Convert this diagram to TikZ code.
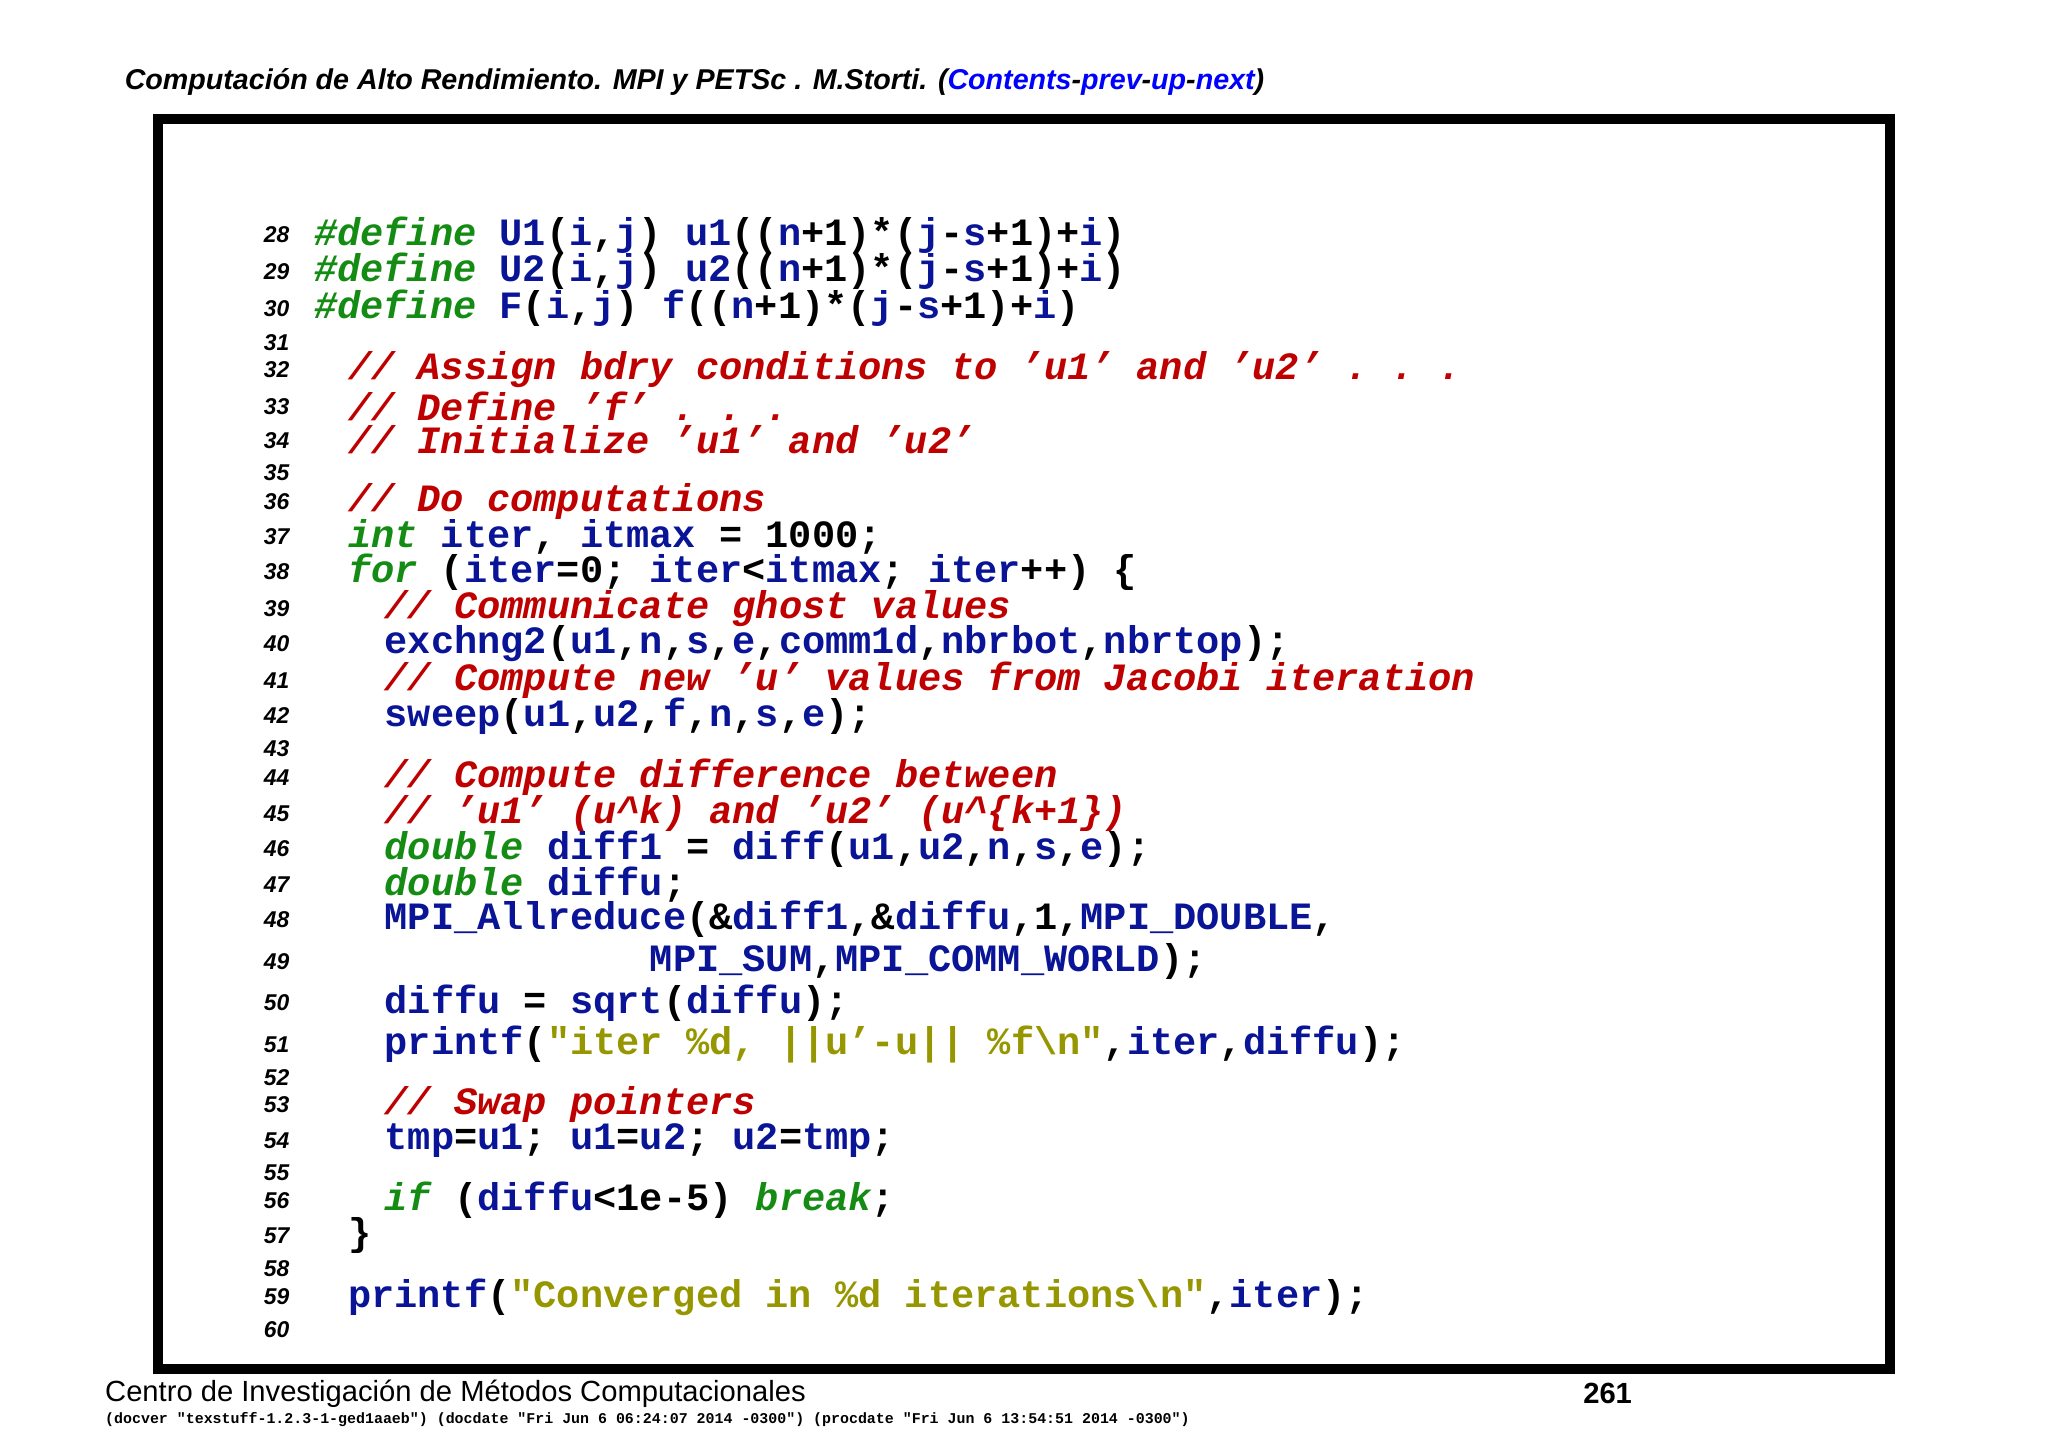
\documentclass[tikz,border=0pt]{standalone}
\usepackage{fontspec}
\setmainfont{Liberation Sans}
\setsansfont{Liberation Sans}
\setmonofont{Liberation Mono}
\definecolor{cb}{RGB}{10,20,150}
\definecolor{cg}{RGB}{20,140,20}
\definecolor{cr}{RGB}{190,0,0}
\definecolor{cy}{RGB}{150,150,0}
\newcommand{\B}[1]{\textcolor{cb}{#1}}
\newcommand{\G}[1]{\textcolor{cg}{\itshape #1}}
\newcommand{\R}[1]{\textcolor{cr}{\itshape #1}}
\newcommand{\Y}[1]{\textcolor{cy}{#1}}
\tikzset{code/.style={anchor=west,inner sep=0pt,font=\ttfamily\bfseries\fontsize{11}{13}\selectfont},
lno/.style={anchor=east,inner sep=0pt,font=\sffamily\bfseries\itshape\fontsize{6.5}{8}\selectfont}}
\begin{document}
\begin{tikzpicture}[x=0.01306cm,y=-0.01306cm]
\useasboundingbox (0,0) rectangle (1568,1109);
\draw[line width=8*0.01306cm] (121,91) rectangle (1447,1048);
\node[anchor=west,inner sep=0pt,font=\sffamily\bfseries\itshape\fontsize{8.15}{10}\selectfont] (hdr) at (95,63) {Computación de Alto Rendimiento. MPI y PETSc . M.Storti. (\textcolor{blue}{Contents}-\textcolor{blue}{prev}-\textcolor{blue}{up}-\textcolor{blue}{next})};
\node[anchor=west,inner sep=0pt,font=\sffamily\fontsize{8.3}{10}\selectfont] (ft) at (80,1067) {Centro de Investigación de Métodos Computacionales};
\node[anchor=east,inner sep=0pt,font=\sffamily\bfseries\fontsize{8.3}{10}\selectfont] (pg) at (1250,1067) {261};
\node[anchor=west,inner sep=0pt,font=\ttfamily\bfseries\fontsize{4.25}{5}\selectfont] (ver) at (80,1087) {(docver "texstuff-1.2.3-1-ged1aaeb") (docdate "Fri Jun 6 06:24:07 2014 -0300") (procdate "Fri Jun 6 13:54:51 2014 -0300")};
\foreach \n/\y in {28/180,29/208,30/236,31/262,32/283,33/311,34/337,35/362,36/384,37/411,38/438,39/466,40/493,41/521,42/548,43/573,44/595,45/623,46/650,47/677,48/704,49/736,50/768,51/800,52/825,53/846,54/873,55/898,56/919,57/946,58/971,59/993,60/1018}
  \node[lno] (n\n) at (222,\y) {\n};
\node[code] (l28) at (240,180) {\G{\#define} \B{U1}(\B{i},\B{j}) \B{u1}((\B{n}+1)*(\B{j}-\B{s}+1)+\B{i})};
\node[code] (l29) at (240,208) {\G{\#define} \B{U2}(\B{i},\B{j}) \B{u2}((\B{n}+1)*(\B{j}-\B{s}+1)+\B{i})};
\node[code] (l30) at (240,236) {\G{\#define} \B{F}(\B{i},\B{j}) \B{f}((\B{n}+1)*(\B{j}-\B{s}+1)+\B{i})};
\node[code] (l32) at (266,283) {\R{// Assign bdry conditions to ’u1’ and ’u2’ . . .}};
\node[code] (l33) at (266,311) {\R{// Define ’f’ . . .}};
\node[code] (l34) at (266,337) {\R{// Initialize ’u1’ and ’u2’}};
\node[code] (l36) at (266,384) {\R{// Do computations}};
\node[code] (l37) at (266,411) {\G{int} \B{iter}, \B{itmax} = 1000;};
\node[code] (l38) at (266,438) {\G{for} (\B{iter}=0; \B{iter}<\B{itmax}; \B{iter}++) \{};
\node[code] (l39) at (294,466) {\R{// Communicate ghost values}};
\node[code] (l40) at (294,493) {\B{exchng2}(\B{u1},\B{n},\B{s},\B{e},\B{comm1d},\B{nbrbot},\B{nbrtop});};
\node[code] (l41) at (294,521) {\R{// Compute new ’u’ values from Jacobi iteration}};
\node[code] (l42) at (294,548) {\B{sweep}(\B{u1},\B{u2},\B{f},\B{n},\B{s},\B{e});};
\node[code] (l44) at (294,595) {\R{// Compute difference between}};
\node[code] (l45) at (294,623) {\R{// ’u1’ (u\^{}k) and ’u2’ (u\^{}\{k+1\})}};
\node[code] (l46) at (294,650) {\G{double} \B{diff1} = \B{diff}(\B{u1},\B{u2},\B{n},\B{s},\B{e});};
\node[code] (l47) at (294,677) {\G{double} \B{diffu};};
\node[code] (l48) at (294,704) {\B{MPI\_Allreduce}(\&\B{diff1},\&\B{diffu},1,\B{MPI\_DOUBLE},};
\node[code] (l49) at (497,736) {\B{MPI\_SUM},\B{MPI\_COMM\_WORLD});};
\node[code] (l50) at (294,768) {\B{diffu} = \B{sqrt}(\B{diffu});};
\node[code] (l51) at (294,800) {\B{printf}(\Y{"iter \%d, ||u’-u|| \%f\textbackslash n"},\B{iter},\B{diffu});};
\node[code] (l53) at (294,846) {\R{// Swap pointers}};
\node[code] (l54) at (294,873) {\B{tmp}=\B{u1}; \B{u1}=\B{u2}; \B{u2}=\B{tmp};};
\node[code] (l56) at (294,919) {\G{if} (\B{diffu}<1e-5) \G{break};};
\node[code] (l57) at (266,946) {\}};
\node[code] (l59) at (266,993) {\B{printf}(\Y{"Converged in \%d iterations\textbackslash n"},\B{iter});};
\end{tikzpicture}
\end{document}
